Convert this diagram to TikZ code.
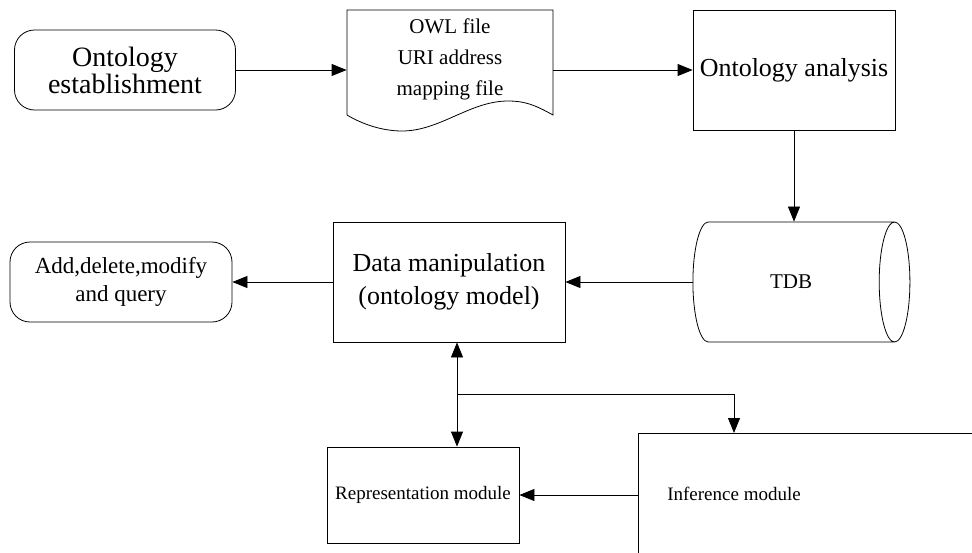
\documentclass[tikz,border=0pt]{standalone}
\usepackage{fontspec}
\setmainfont{Liberation Serif}
\usetikzlibrary{shapes,arrows.meta,calc}
\tikzstyle{line} = [draw, -{Triangle[length=15pt,width=12pt]}]
\tikzstyle{both} = [draw, {Triangle[length=15pt,width=12pt]}-{Triangle[length=15pt,width=12pt]}]
\tikzstyle{term} = [rectangle, draw, rounded corners=20pt, align=center, text centered, font=\fontsize{28}{27}\selectfont]
\tikzstyle{proc} = [rectangle, draw, align=center, text centered, font=\fontsize{26}{33}\selectfont]
\tikzstyle{docu} = [rectangle, minimum width=206, minimum height=105]
\tikzstyle{store} = [cylinder, draw, aspect=1.5, shape border rotate=0, font=\fontsize{21}{21}\selectfont]

\begin{document}
\begin{tikzpicture}[x=1pt, y=-1pt, line width=0.8pt]
	\useasboundingbox (0,0) rectangle (972,552);
	\clip (0,0) rectangle (972,552);
	
	\node [term, minimum width=221, minimum height=80] (est) at (125,70) {Ontology\\establishment};
	
	% document
	\node [docu] (owl) at (450,62.5) {};
	\draw (347,115) -- (347,10) -- (553,10) -- (553,115) .. controls (535,105) and (525,101) .. (508,101) .. controls (470,101) and (440,131) .. (402,131) .. controls (382,131) and (362,124) .. (347,115);
	\node [align=center, font=\fontsize{21}{31}\selectfont] (owltxt) at (450,59) {OWL file\\URI address\\mapping file};
	\path [line] (est.east) -- (est.east -| owl.west);
	
	\node [proc, minimum width=202, minimum height=120] (ana) at (794,70) {Ontology analysis};
	\path [line] (owl.east |- ana.west) -- (ana.west);
	
	\node [store, minimum width=120, minimum height=217] (tdb) at (791,282) {TDB};
	\path [line] (ana.south) -- (ana.south |- tdb.north);
	
	\node [proc, minimum width=232, minimum height=120] (dm) at (449,282) {Data manipulation\\(ontology model)};
	\path [line] (tdb.west) -- (dm.east |- tdb.west);
	
	\node [term, minimum width=222, minimum height=80, font=\fontsize{23}{28}\selectfont] (add) at (121,282) {Add,delete,modify\\and query};
	\path [line] (dm.west |- add.east) -- (add.east);
	
	\node [proc, minimum width=192, minimum height=96, font=\fontsize{19}{19}\selectfont] (rep) at (423,495) {Representation module};
	\node [proc, anchor=north west, minimum width=400, minimum height=200] (infbox) at (638,433) {};
	\node [font=\fontsize{19}{19}\selectfont] (inf) at (734,494) {Inference module};
	\path [line] (infbox.west |- rep.east) -- (rep.east);
	
	\path [both] ([xshift=8pt]dm.south) -- ([xshift=8pt]dm.south |- rep.north);
	\coordinate (fork) at ($([xshift=8pt]dm.south)!0.5!([xshift=8pt]dm.south |- rep.north)$);
	\path [line] (fork) -| (inf.north |- infbox.north);
\end{tikzpicture}
\end{document}
